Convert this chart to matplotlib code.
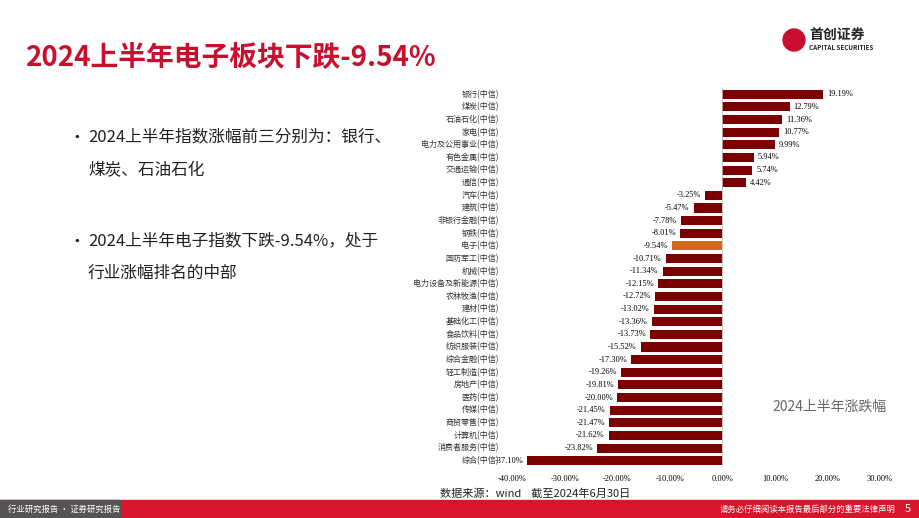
import matplotlib
matplotlib.use("Agg")
import matplotlib.pyplot as plt
from matplotlib.patches import Rectangle, Ellipse

plt.rcParams["font.family"] = ["Noto Sans CJK SC", "DejaVu Sans"]

categories = ["银行", "煤炭", "石油石化", "家电", "电力及公用事业", "有色金属", "交通运输", "通信",
              "汽车", "建筑", "非银行金融", "钢铁", "电子", "国防军工", "机械", "电力设备及新能源",
              "农林牧渔", "建材", "基础化工", "食品饮料", "纺织服装", "综合金融", "轻工制造", "房地产",
              "医药", "传媒", "商贸零售", "计算机", "消费者服务", "综合"]
values = [19.19, 12.79, 11.36, 10.77, 9.99, 5.94, 5.74, 4.42,
          -3.25, -5.47, -7.78, -8.01, -9.54, -10.71, -11.34, -12.15,
          -12.72, -13.02, -13.36, -13.73, -15.52, -17.30, -19.26, -19.81,
          -20.00, -21.45, -21.47, -21.62, -23.82, -37.10]
highlight = "电子"
xticks = [-40, -30, -20, -10, 0, 10, 20, 30]

W, H = 920, 518
fig = plt.figure(figsize=(W/100, H/100), dpi=100)

def fx(x): return x / W
def fy(y): return 1 - y / H

# title
fig.text(fx(26), fy(58), "2024上半年电子板块下跌-9.54%", color="#c8102e", fontsize=20,
         fontweight="bold", va="center", ha="left")
# logo
fig.patches.append(Ellipse((fx(794), fy(40)), 22/W, 22/H, transform=fig.transFigure, color="#c8102e"))
fig.text(fx(809), fy(36), "首创证券", fontsize=10, fontweight="bold", color="#222", va="center")
fig.text(fx(809), fy(48), "CAPITAL SECURITIES", fontsize=4.5, fontweight="bold", color="#222", va="center")

# bullets
fig.text(fx(68), fy(137), "•", fontsize=12, va="center")
fig.text(fx(88), fy(137), "2024上半年指数涨幅前三分别为：银行、", fontsize=12, va="center", color="#222")
fig.text(fx(88), fy(171), "煤炭、石油石化", fontsize=12, va="center", color="#222")
fig.text(fx(68), fy(241), "•", fontsize=12, va="center")
fig.text(fx(88), fy(241), "2024上半年电子指数下跌-9.54%，处于", fontsize=12, va="center", color="#222")
fig.text(fx(88), fy(273), "行业涨幅排名的中部", fontsize=12, va="center", color="#222")

# chart
ax = fig.add_axes([fx(512), fy(467), (880-512)/W, (467-88)/H])
n = len(categories)
ys = list(range(n))
colors = ["#d2691e" if c == highlight else "#7b0000" for c in categories]
ax.barh(ys, values, height=0.72, color=colors)
ax.set_ylim(n - 0.5, -0.5)
ax.set_xlim(-40, 30)
ax.set_xticks(xticks)
ax.set_xticklabels([f"{t:.2f}%" for t in xticks], fontsize=6, family="Liberation Serif")
ax.tick_params(axis="x", length=0, pad=6)
ax.set_yticks([])
for s in ax.spines.values():
    s.set_visible(False)
ax.axvline(0, color="#bbbbbb", lw=0.6)
for y, v, c in zip(ys, values, categories):
    if v >= 0:
        ax.text(v + 0.8, y, f"{v:.2f}%", fontsize=6, va="center", ha="left", family="Liberation Serif")
    else:
        ax.text(v - 0.8, y, f"{v:.2f}%", fontsize=6, va="center", ha="right", family="Liberation Serif")
    ax.text(-42.5, y, f"{c}(中信)", fontsize=5.8, va="center", ha="right", color="#333")

fig.text(fx(772), fy(407), "2024上半年涨跌幅", fontsize=10, color="#666", ha="left", va="center")
fig.text(fx(440), fy(493), "数据来源：wind    截至2024年6月30日", fontsize=8, color="#222", va="center")

# footer
fig.patches.append(Rectangle((0, 0), 1, fy(500), transform=fig.transFigure, color="#d9152b"))
fig.patches.append(Rectangle((0, 0), fx(120), fy(500), transform=fig.transFigure, color="#555555"))
fig.text(fx(8), fy(509), "行业研究报告 · 证券研究报告", fontsize=6, color="white", va="center")
fig.text(fx(720), fy(509), "请务必仔细阅读本报告最后部分的重要法律声明", fontsize=6, color="white", va="center")
fig.text(fx(905), fy(509), "5", fontsize=8, color="white", va="center")

fig.savefig("out.png", dpi=100)
